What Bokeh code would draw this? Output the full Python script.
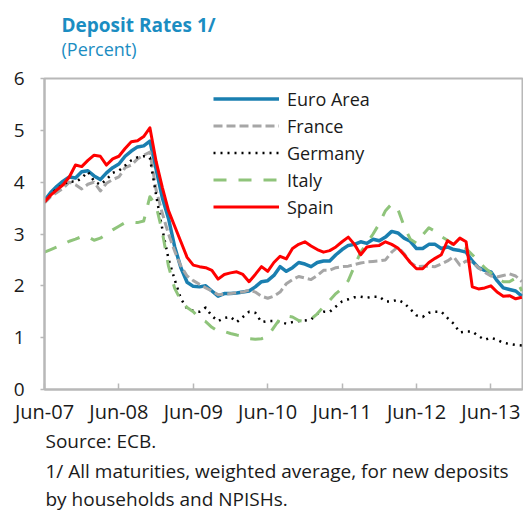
from bokeh.plotting import figure
from bokeh.layouts import column
from bokeh.models import ColumnDataSource, FixedTicker, Legend, LegendItem, Label, Range1d
from bokeh.embed import file_html
from bokeh.resources import INLINE

# ---- data (monthly, Jun-07 .. Nov-13) ----
tick_labels = ["Jun-07", "Jun-08", "Jun-09", "Jun-10", "Jun-11", "Jun-12", "Jun-13"]
series_names = ["Euro Area", "France", "Germany", "Italy", "Spain"]

euro_area = [3.65, 3.8, 3.92, 4.02, 4.1, 4.08, 4.2, 4.22, 4.12, 4.05, 4.18, 4.28, 4.35, 4.5, 4.6, 4.68, 4.7, 4.79,
             4.25, 3.7, 3.3, 2.75, 2.35, 2.07, 1.99, 1.98, 2.0, 1.9, 1.8, 1.85,
             1.85, 1.86, 1.88, 1.9, 1.98, 2.08, 2.1, 2.2, 2.37, 2.28, 2.35, 2.45,
             2.42, 2.37, 2.45, 2.48, 2.48, 2.6, 2.7, 2.78, 2.8, 2.85, 2.82, 2.9,
             2.87, 2.94, 3.05, 3.02, 2.92, 2.86, 2.72, 2.72, 2.8, 2.8, 2.72, 2.75,
             2.7, 2.68, 2.65, 2.48, 2.35, 2.3, 2.27, 2.1, 1.96, 1.93, 1.9, 1.8]
france = [3.6, 3.72, 3.8, 3.88, 4.0, 3.95, 3.87, 3.96, 4.0, 3.83, 3.98, 4.05, 4.1, 4.28, 4.33, 4.45, 4.52, 4.58,
          3.85, 3.4, 3.0, 2.67, 2.38, 2.19, 2.1, 2.03, 1.96, 1.9, 1.83, 1.84,
          1.85, 1.87, 1.88, 1.92, 1.88, 1.8, 1.76, 1.8, 1.88, 2.04, 2.12, 2.18,
          2.15, 2.12, 2.2, 2.3, 2.3, 2.35, 2.37, 2.38, 2.41, 2.44, 2.46, 2.47,
          2.48, 2.5, 2.65, 2.75, 2.62, 2.45, 2.37, 2.38, 2.38, 2.37, 2.42, 2.48,
          2.56, 2.4, 2.48, 2.46, 2.35, 2.26, 2.19, 2.17, 2.2, 2.23, 2.19, 2.08]
germany = [3.62, 3.75, 3.88, 3.95, 4.02, 4.0, 4.08, 4.2, 4.02, 3.95, 4.05, 4.18, 4.22, 4.32, 4.42, 4.48, 4.5, 4.47,
           3.75, 3.1, 2.52, 2.12, 1.75, 1.56, 1.52, 1.5, 1.58, 1.42, 1.32, 1.38,
           1.4, 1.3, 1.4, 1.5, 1.48, 1.3, 1.32, 1.32, 1.3, 1.27, 1.3, 1.32,
           1.33, 1.35, 1.46, 1.5, 1.5, 1.6, 1.7, 1.74, 1.78, 1.79, 1.77, 1.79,
           1.79, 1.7, 1.7, 1.73, 1.67, 1.55, 1.43, 1.4, 1.48, 1.5, 1.5, 1.38,
           1.27, 1.1, 1.12, 1.12, 1.03, 0.96, 1.0, 0.96, 0.9, 0.88, 0.86, 0.85]
italy = [2.65, 2.7, 2.75, 2.8, 2.86, 2.9, 2.95, 2.95, 2.88, 2.92, 3.0, 3.08, 3.15, 3.22, 3.23, 3.22, 3.25, 3.72,
         3.55, 3.04, 2.38, 1.95, 1.72, 1.58, 1.5, 1.37, 1.31, 1.2, 1.12, 1.12,
         1.08, 1.05, 1.03, 0.98, 0.97, 0.98, 1.02, 1.2, 1.37, 1.42, 1.4, 1.33,
         1.31, 1.36, 1.46, 1.6, 1.72, 1.85, 1.95, 2.1, 2.38, 2.65, 2.82, 3.0,
         3.2, 3.45, 3.58, 3.48, 3.15, 2.9, 2.82, 2.98, 3.12, 3.05, 2.95, 2.88,
         2.78, 2.76, 2.72, 2.6, 2.48, 2.35, 2.25, 2.15, 2.08, 2.08, 2.15, 1.9]
spain = [3.62, 3.75, 3.85, 3.95, 4.1, 4.33, 4.3, 4.42, 4.52, 4.5, 4.33, 4.45, 4.5, 4.65, 4.78, 4.8, 4.88, 5.05,
         4.4, 3.9, 3.45, 3.15, 2.85, 2.55, 2.4, 2.37, 2.35, 2.3, 2.13, 2.22,
         2.25, 2.27, 2.22, 2.08, 2.22, 2.37, 2.28, 2.45, 2.57, 2.52, 2.72, 2.8,
         2.85, 2.77, 2.7, 2.65, 2.68, 2.75, 2.85, 2.94, 2.8, 2.6, 2.75, 2.77,
         2.78, 2.85, 2.8, 2.73, 2.6, 2.45, 2.33, 2.33, 2.45, 2.53, 2.6, 2.87,
         2.8, 2.92, 2.85, 1.98, 1.94, 1.96, 2.0, 1.88, 1.8, 1.81, 1.75, 1.78]

title_text = "Deposit Rates 1/"
subtitle_text = "(Percent)"
notes = ["Source: ECB.",
         "1/ All maturities, weighted average, for new deposits",
         "by households and NPISHs."]

months = list(range(len(euro_area)))
tick_pos = [12 * i for i in range(len(tick_labels))]

FONT = "Open Sans"
AXIS_GREY = "#B8B8B8"
TITLE_BLUE = "#1B8DC2"
TEXT = "#1a1a1a"
W = 523
LEFT = 44     # left border shared by all stacked panels (frames get aligned)
RIGHT = 1
FRAME_W = W - LEFT - RIGHT


def text_panel(height):
    f = figure(width=W, height=height, output_backend="svg", toolbar_location=None,
               x_range=Range1d(0, FRAME_W), y_range=Range1d(height, 0),
               x_axis_type=None, y_axis_type=None,
               min_border_left=LEFT, min_border_right=RIGHT, min_border_top=0, min_border_bottom=0)
    f.outline_line_color = None
    f.xgrid.visible = False
    f.ygrid.visible = False
    return f


# ---- header (y measured from its top) ----
HEAD_H = 62
head = text_panel(HEAD_H)
head.add_layout(Label(x=61 - LEFT, y=24, text=title_text, text_font=FONT, text_font_style="bold",
                      text_font_size="19px", text_color=TITLE_BLUE, text_baseline="middle", text_align="left"))
head.add_layout(Label(x=61 - LEFT, y=48, text=subtitle_text, text_font=FONT,
                      text_font_size="18px", text_color=TITLE_BLUE, text_baseline="middle", text_align="left"))

# ---- main chart ----
p = figure(width=W, height=16 + 313 + 36, output_backend="svg", toolbar_location=None,
           x_range=Range1d(0, 77.1), y_range=Range1d(0, 6),
           min_border_left=LEFT, min_border_right=RIGHT, min_border_top=16, min_border_bottom=36)
p.background_fill_color = "white"
p.border_fill_color = "white"
p.outline_line_color = AXIS_GREY
p.outline_line_width = 2
p.xgrid.visible = False
p.ygrid.visible = False

src = ColumnDataSource(dict(m=months, euro=euro_area, fr=france, de=germany, it=italy, es=spain))

styles = [
    ("euro", "#1A7FB0", 3.5, "solid"),
    ("fr", "#A6A6A6", 3, "9 4"),
    ("de", "#000000", 2.5, "2 5"),
    ("it", "#8FC47B", 3, "13 12"),
    ("es", "#FF0000", 3, "solid"),
]
items = []
for (col, color, w, dash), name in zip(styles, series_names):
    r = p.line("m", col, source=src, line_color=color, line_width=w, line_dash=dash,
               line_cap="butt", line_join="round")
    items.append(LegendItem(label=name, renderers=[r]))

legend = Legend(items=items, location=(169, 169), orientation="vertical",
                glyph_width=66, glyph_height=27, label_height=27, spacing=0,
                padding=0, margin=0, label_standoff=8,
                label_text_font=FONT, label_text_font_size="18px", label_text_color=TEXT,
                border_line_color=None, background_fill_alpha=0)
p.add_layout(legend, "center")

p.xaxis.ticker = FixedTicker(ticks=tick_pos)
p.xaxis.major_label_overrides = {t: l for t, l in zip(tick_pos, tick_labels)}
p.yaxis.ticker = FixedTicker(ticks=[0, 1, 2, 3, 4, 5, 6])
for ax in (p.xaxis[0], p.yaxis[0]):
    ax.axis_line_color = AXIS_GREY
    ax.axis_line_width = 2
    ax.major_tick_line_color = AXIS_GREY
    ax.major_tick_line_width = 1.5
    ax.minor_tick_line_color = None
    ax.major_label_text_font = FONT
    ax.major_label_text_color = TEXT
p.xaxis.major_label_text_font_size = "20px"
p.yaxis.major_label_text_font_size = "19px"
p.xaxis.major_tick_in = 6
p.xaxis.major_tick_out = 0
p.xaxis.major_label_standoff = 8
p.yaxis.major_tick_in = 0
p.yaxis.major_tick_out = 4
p.yaxis.major_label_standoff = 16

# ---- footer (y measured from its top) ----
FOOT_H = 85
foot = text_panel(FOOT_H)
for note, yy in zip(notes, [13, 43, 71]):
    foot.add_layout(Label(x=45 - LEFT, y=yy, text=note, text_font=FONT,
                          text_font_size="19px", text_color=TEXT, text_baseline="middle", text_align="left"))

layout = column(head, p, foot, spacing=0)
open("out.html", "w").write(file_html(layout, INLINE))
